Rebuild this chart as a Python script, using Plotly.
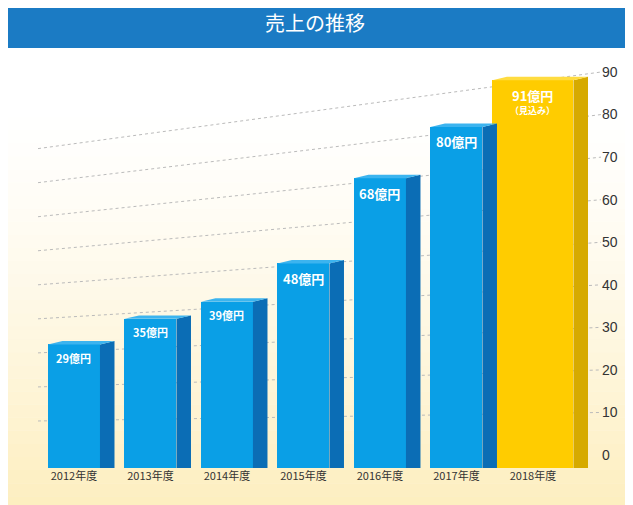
import plotly.graph_objects as go

years = ["2012年度", "2013年度", "2014年度", "2015年度", "2016年度", "2017年度", "2018年度"]
sales = [29, 35, 39, 48, 68, 80, 91]
labels = ["29億円", "35億円", "39億円", "48億円", "68億円", "80億円", "91億円"]
tick_vals = [0, 10, 20, 30, 40, 50, 60, 70, 80, 90]

W, H = 633, 505
ML, MR, MT, MB = 30, 40, 47, 45
PW, PH = W - ML - MR, H - MT - MB
XR = [-0.47, 6.89]
YR = [0, 96.9]
YR2 = [-3.05, 94]

fig = go.Figure()
shapes = []
# background gradient
n = 30
for i in range(n):
    y0 = -0.1 + i / n * 0.95
    y1 = -0.1 + (i + 1) / n * 0.95
    a = (1 - i / n) ** 1.3 * 0.55
    shapes.append(dict(type="rect", xref="paper", yref="paper", x0=-ML / PW, x1=1 + MR / PW,
                       y0=y0, y1=y1, fillcolor=f"rgba(252,225,140,{a:.3f})", line_width=0, layer="below"))
# title bar
shapes.append(dict(type="rect", xref="paper", yref="paper", x0=-ML / PW - 0.05, x1=1 + MR / PW + 0.05,
                   y0=1 + 7 / PH, y1=1.4, fillcolor="#1b7bc4", line_width=0))
# slanted dotted gridlines (below bars)
for v in tick_vals[1:]:
    shapes.append(dict(type="line", xref="x", yref="y2", x0=XR[0], x1=XR[1], y0=v * 0.8, y1=v,
                       line=dict(color="#bbbbbb", width=1, dash="dot"), layer="below"))

xs = list(range(len(years)))
widths = [0.68] * (len(years) - 1) + [1.06]
fronts = ["#0a9fe6"] * (len(years) - 1) + ["#ffcc00"]
sides = ["#0b6db5"] * (len(years) - 1) + ["#d6aa00"]
tops = ["#3cb4ef"] * (len(years) - 1) + ["#ffdc40"]
dx, dy = 0.19, 0.8
for x, v, w, fc, sc, tc in zip(xs, sales, widths, fronts, sides, tops):
    r = x + w / 2
    l = x - w / 2
    fig.add_trace(go.Scatter(x=[r, r + dx, r + dx, r, r], y=[0, 0, v + dy, v, 0], mode="lines",
                             fill="toself", fillcolor=sc, line=dict(width=0), hoverinfo="skip", showlegend=False))
    fig.add_trace(go.Scatter(x=[l, l + dx, r + dx, r, l], y=[v, v + dy, v + dy, v, v], mode="lines",
                             fill="toself", fillcolor=tc, line=dict(width=0), hoverinfo="skip", showlegend=False))

fig.add_trace(go.Bar(x=xs, y=sales, width=widths, marker=dict(color=fronts, line_width=0),
                     hoverinfo="skip", showlegend=False))
# invisible trace to activate right axis
fig.add_trace(go.Scatter(x=[XR[0]], y=[0], yaxis="y2", mode="markers", marker=dict(opacity=0),
                         hoverinfo="skip", showlegend=False))

annotations = []
for x, v, lab in zip(xs, sales, labels):
    big = v >= 40
    annotations.append(dict(x=x, y=v - 0.8, text=f"<b>{lab}</b>", showarrow=False, yanchor="top",
                            font=dict(color="white", size=13 if big else 11, family="Noto Sans CJK JP")))
annotations.append(dict(x=xs[-1], y=sales[-1] - 5.2, text="<b>（見込み）</b>", showarrow=False, yanchor="top",
                        font=dict(color="white", size=9, family="Noto Sans CJK JP")))
annotations.append(dict(xref="paper", yref="paper", x=0.5 - (MR - ML) / 2 / PW, y=1 + 33 / PH,
                        yanchor="middle", text="売上の推移", showarrow=False,
                        font=dict(color="white", size=20, family="Noto Sans CJK JP")))

fig.update_layout(
    width=W, height=H, margin=dict(l=ML, r=MR, t=MT, b=MB),
    paper_bgcolor="white", plot_bgcolor="rgba(0,0,0,0)",
    shapes=shapes, annotations=annotations, bargap=0,
    xaxis=dict(range=XR, tickvals=xs, ticktext=years, showgrid=False, zeroline=False,
               tickfont=dict(size=11, color="#333", family="Noto Sans CJK JP"), ticks=""),
    yaxis=dict(range=YR, visible=False, showgrid=False),
    yaxis2=dict(range=YR2, overlaying="y", side="right", tickvals=tick_vals, showgrid=False,
                zeroline=False, tickfont=dict(size=14, color="#333", family="Liberation Sans"), ticks=""),
)
fig.write_html("out.html")
